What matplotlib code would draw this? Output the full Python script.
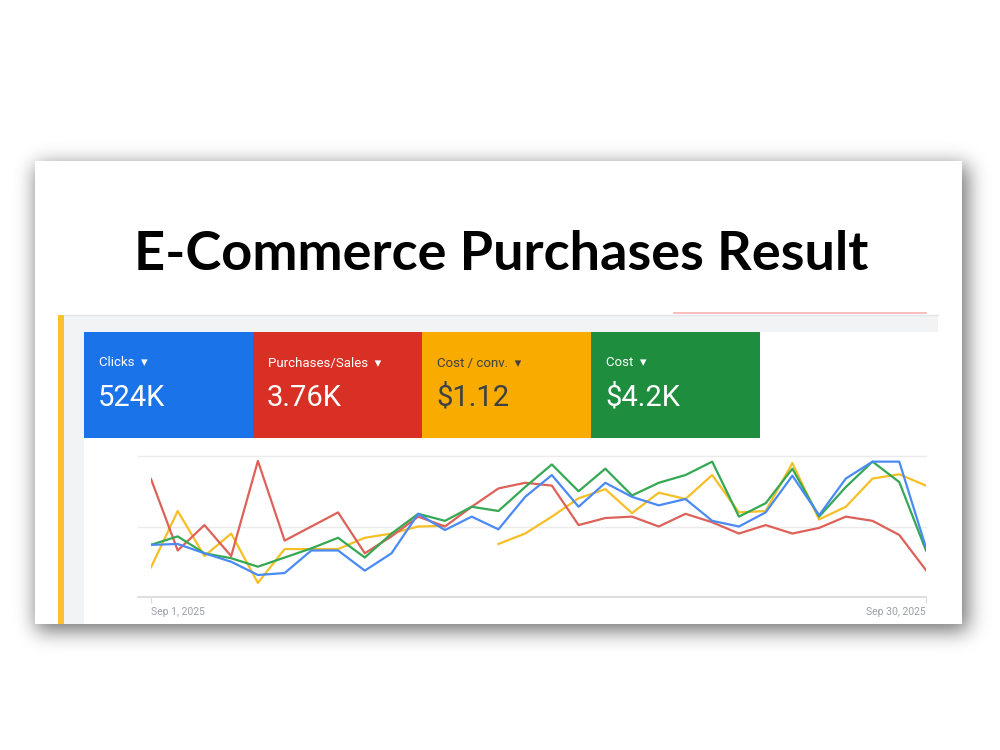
import math
import numpy as np
import matplotlib.pyplot as plt
from matplotlib.patches import Rectangle

# daily values, Sep 1 - Sep 30 2025 (relative scale 0-100)
days = np.arange(1, 31)
clicks = [37, 37.6, 31, 25, 15.6, 17, 33, 33, 18.7, 31,
          59, 47.5, 57, 48, 71, 86.5, 64, 81, 71, 65,
          69.5, 54, 50, 60, 86, 58, 84, 96, 96, 35]
purchases = [83.7, 33, 51, 29, 96.5, 40, 50, 60, 31, 43,
             57, 50, 64, 77, 81, 79, 51, 56, 57, 50,
             59, 53, 45, 51, 45, 49, 57, 54, 44, 19]
cost_conv = [21, 61, 29, 45, 10, 34, 34, 34, 42, 45,
             50, 50.5, np.nan, 37.6, 45, 57, 70, 76.5, 59.5, 74,
             69.5, 86.5, 60, 61, 95, 55, 64, 84, 87, 79]
cost = [37, 43, 31, 27.5, 21.5, 28, 34.5, 42, 28, 45,
        59, 54, 64, 61, 78, 94, 75, 91, 72, 81,
        86.5, 96, 57, 66.5, 91, 57, 78, 96, 81.5, 33]

tile_labels = ["Clicks", "Purchases/Sales", "Cost / conv.", "Cost"]
tile_values = ["524K", "3.76K", "$1.12", "$4.2K"]
tile_colors = ["#1a73e8", "#d93025", "#f9ab00", "#1e8e3e"]
tile_text = ["white", "white", "#3c4043", "white"]

fig = plt.figure(figsize=(10, 7.5), dpi=100)
fig.patch.set_facecolor("white")

# background axes in pixel coordinates
bg = fig.add_axes([0, 0, 1, 1])
bg.set_xlim(0, 1000)
bg.set_ylim(750, 0)
bg.axis("off")

# soft drop shadow behind the card
erf = np.vectorize(math.erf)


def soft(v, a, b, s):
    return 0.5 * (erf((v - a) / (s * math.sqrt(2))) - erf((v - b) / (s * math.sqrt(2))))


xs = np.arange(1000) + 0.5
ys = np.arange(750) + 0.5
shadow = 0.55 * np.outer(soft(ys, 165, 631, 10), soft(xs, 36, 968, 10))
img = np.zeros((750, 1000, 4))
img[..., 3] = shadow
bg.imshow(img, extent=(0, 1000, 750, 0), aspect="auto", interpolation="bilinear", zorder=0)

bg.add_patch(Rectangle((35, 161), 927, 463, fc="white", ec="none", zorder=1))

bg.text(501, 254, "E-Commerce Purchases Result", ha="center", va="center",
        fontsize=39, fontweight="bold", family="Lato", color="black", zorder=3)

# dashboard frame
bg.add_patch(Rectangle((58, 315), 6, 309, fc="#fbc02d", ec="none", zorder=2))
bg.add_patch(Rectangle((64, 315), 874, 17, fc="#f1f3f4", ec="none", zorder=2))
bg.add_patch(Rectangle((64, 315), 20, 309, fc="#f1f3f4", ec="none", zorder=2))
bg.plot([64, 938], [315, 315], color="#e3e5e8", lw=1, zorder=2)
bg.plot([674, 926], [313, 313], color="#f5b3b0", lw=1.2, zorder=2)

# scorecard tiles
for i, (lab, val, c, tc) in enumerate(zip(tile_labels, tile_values, tile_colors, tile_text)):
    x0 = 84 + i * 169
    bg.add_patch(Rectangle((x0, 332), 169, 106, fc=c, ec="none", zorder=2))
    bg.text(x0 + 15, 363, lab + "  \u25be", ha="left", va="center", fontsize=9.5,
            family=["Roboto", "DejaVu Sans"], color=tc, zorder=3)
    bg.text(x0 + 14, 398, val, ha="left", va="center", fontsize=21,
            family="Roboto", color=tc, zorder=3)

# line chart
ax = fig.add_axes([0.151, 1 - 597 / 750, 0.775, 141 / 750])
ax.set_xlim(days[0], days[-1])
ax.set_ylim(0, 100)
for v in [50, 100]:
    ax.axhline(v, xmin=-0.017, xmax=1, color="#ebebeb", lw=1, clip_on=False, zorder=0)
ax.axhline(0, xmin=-0.017, xmax=1, color="#dadce0", lw=1.3, clip_on=False, zorder=0)

ax.plot(days, cost_conv, color="#f6bf26", lw=1.6, zorder=2)
ax.plot(days, purchases, color="#de6159", lw=1.6, zorder=3)
ax.plot(days, cost, color="#34a853", lw=1.6, zorder=4)
ax.plot(days, clicks, color="#4a8af4", lw=1.6, zorder=5)

for s in ax.spines.values():
    s.set_visible(False)
ax.set_yticks([])
ax.set_xticks([days[0], days[-1]], labels=["Sep 1, 2025", "Sep 30, 2025"])
ax.tick_params(axis="x", length=4, color="#dadce0", labelsize=7.5,
               labelcolor="#9aa0a6", pad=3.5)
for t, ha in zip(ax.get_xticklabels(), ["left", "right"]):
    t.set_ha(ha)
    t.set_family("Roboto")
ax.patch.set_alpha(0)

fig.savefig("out.png", dpi=100)
